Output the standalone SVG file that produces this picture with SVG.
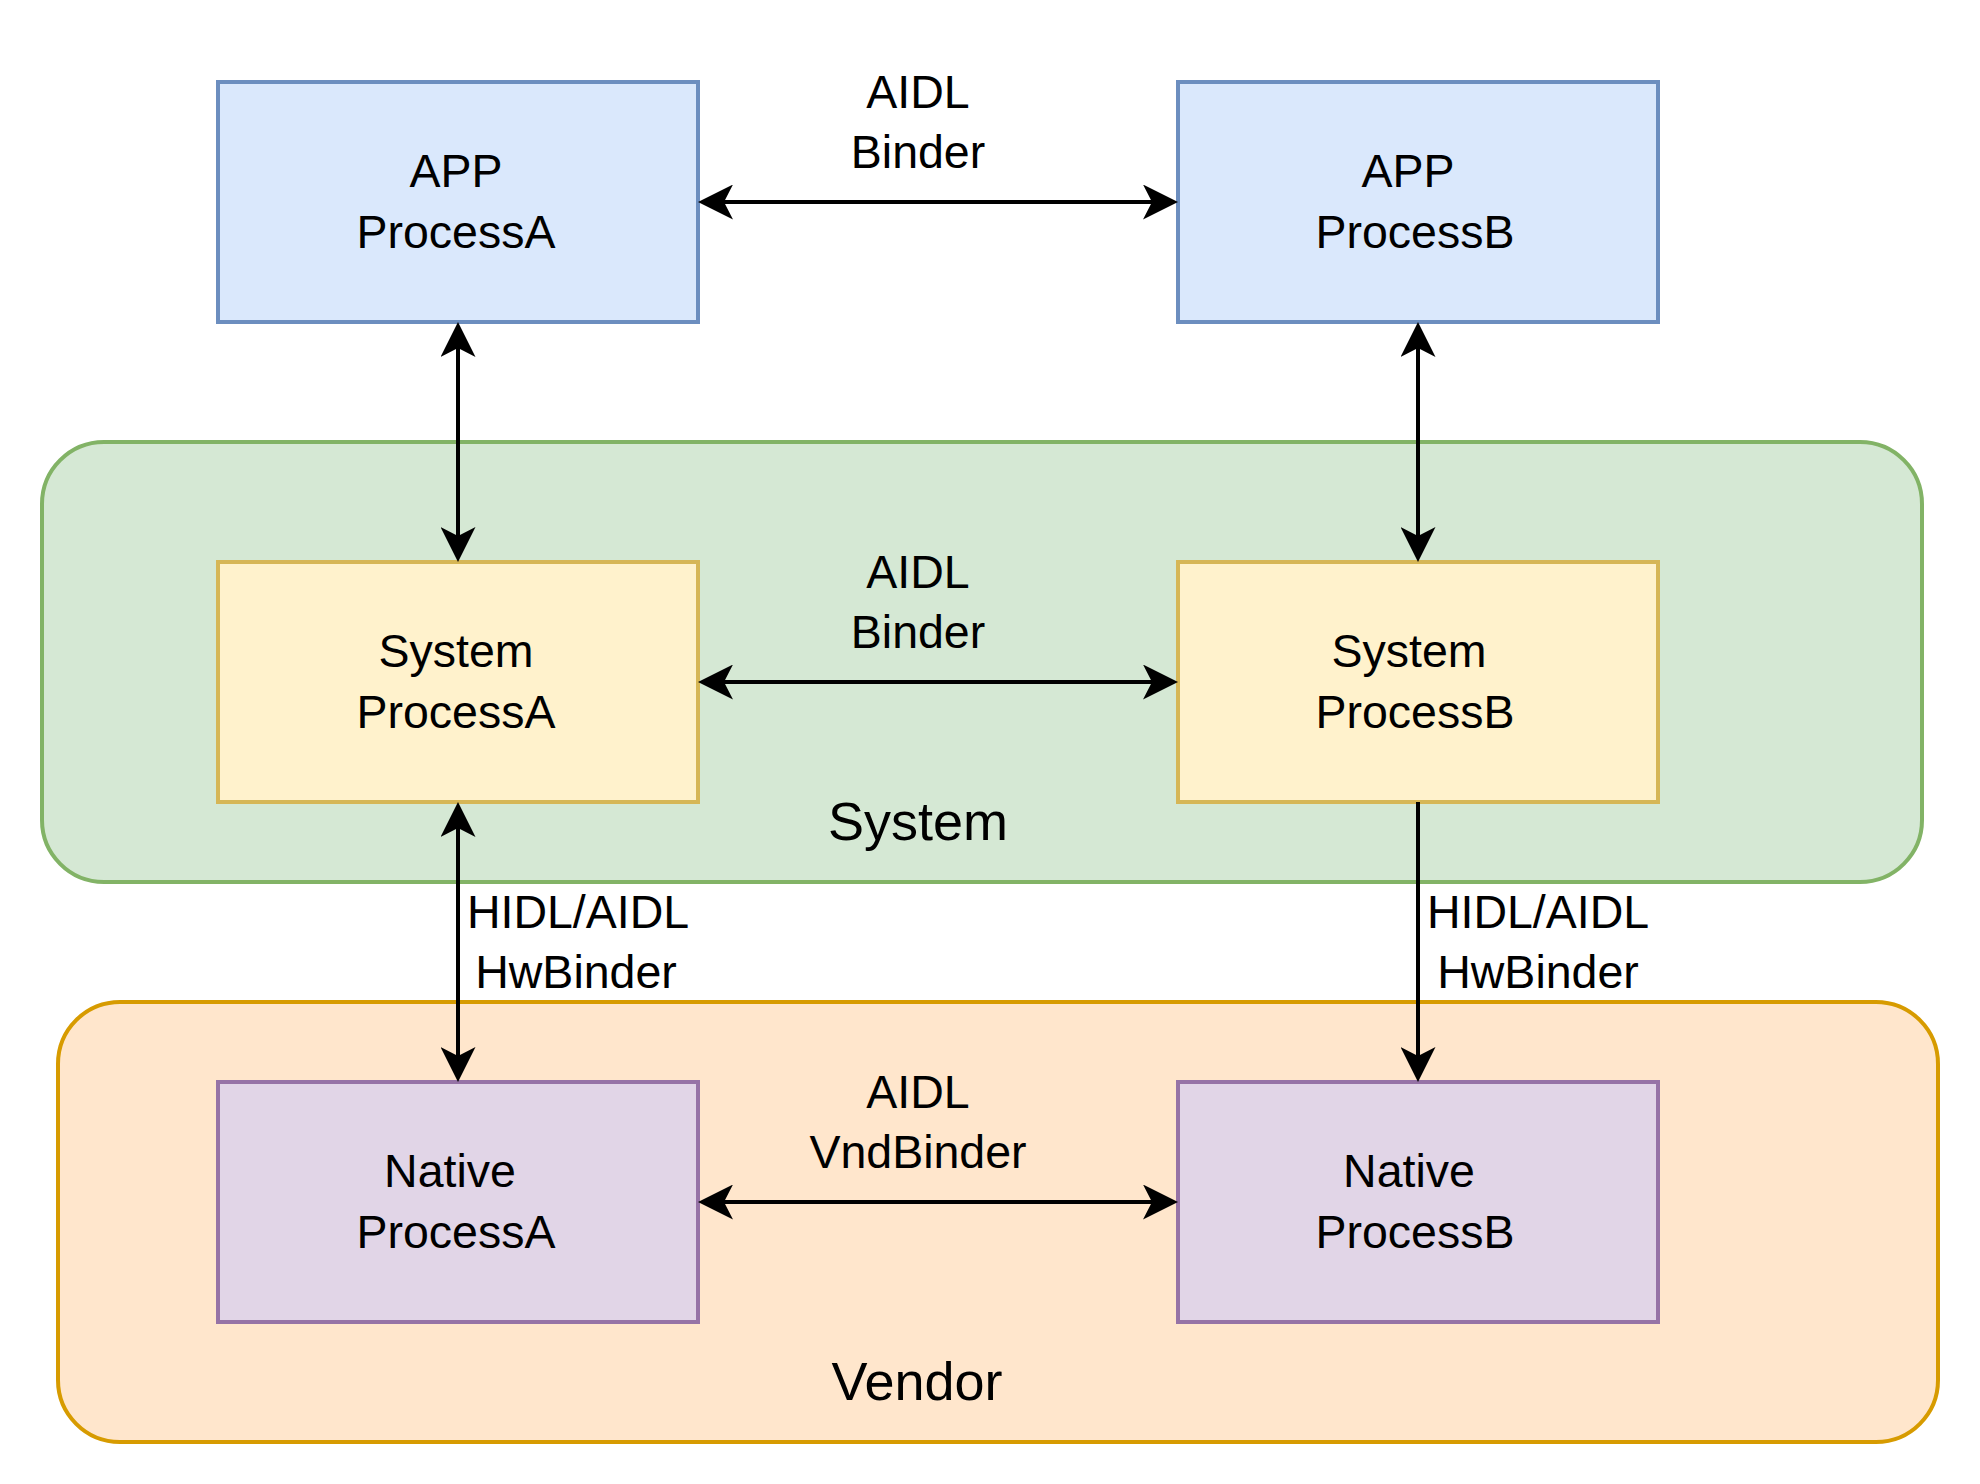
<svg xmlns="http://www.w3.org/2000/svg" width="1980" height="1484" viewBox="0 0 1980 1484">
  <style>
    text { font-family: "Liberation Sans", Arial, Helvetica, sans-serif; fill: #000000; }
    .t { font-size: 46.5px; text-anchor: middle; }
    .big { font-size: 54px; text-anchor: middle; }
    .box { stroke-width: 4; }
    .blue { fill: #dae8fc; stroke: #6c8ebf; }
    .yellow { fill: #fff2cc; stroke: #d6b656; }
    .purple { fill: #e1d5e7; stroke: #9673a6; }
    .cont { stroke-width: 4; }
    .conn { stroke: #000000; stroke-width: 4; fill: none; }
  </style>
  <defs>
    <marker id="arr" viewBox="0 0 35 35" markerWidth="35" markerHeight="35" refX="25" refY="17.5" orient="auto-start-reverse" markerUnits="userSpaceOnUse">
      <path d="M35,17.5 L0,0 L9,17.5 L0,35 Z" fill="#000000"/>
    </marker>
  </defs>
  <rect width="1980" height="1484" fill="#ffffff"/>

  <g id="system-layer">
    <rect class="cont" x="42" y="442" width="1880" height="440" rx="62" ry="62" fill="#d5e8d4" stroke="#82b366"/>
    <text class="big" x="918" y="840">System</text>
  </g>
  <g id="vendor-layer">
    <rect class="cont" x="58" y="1002" width="1880" height="440" rx="62" ry="62" fill="#ffe6cc" stroke="#d79b00"/>
    <text class="big" x="917" y="1400">Vendor</text>
  </g>

  <g id="app-process-a">
    <rect class="box blue" x="218" y="82" width="480" height="240"/>
    <text class="t" x="456" y="187">APP</text>
    <text class="t" x="456" y="248">ProcessA</text>
  </g>
  <g id="app-process-b">
    <rect class="box blue" x="1178" y="82" width="480" height="240"/>
    <text class="t" x="1408" y="187">APP</text>
    <text class="t" x="1415" y="248">ProcessB</text>
  </g>
  <g id="system-process-a">
    <rect class="box yellow" x="218" y="562" width="480" height="240"/>
    <text class="t" x="456" y="667">System</text>
    <text class="t" x="456" y="728">ProcessA</text>
  </g>
  <g id="system-process-b">
    <rect class="box yellow" x="1178" y="562" width="480" height="240"/>
    <text class="t" x="1409" y="667">System</text>
    <text class="t" x="1415" y="728">ProcessB</text>
  </g>
  <g id="native-process-a">
    <rect class="box purple" x="218" y="1082" width="480" height="240"/>
    <text class="t" x="450" y="1187">Native</text>
    <text class="t" x="456" y="1248">ProcessA</text>
  </g>
  <g id="native-process-b">
    <rect class="box purple" x="1178" y="1082" width="480" height="240"/>
    <text class="t" x="1409" y="1187">Native</text>
    <text class="t" x="1415" y="1248">ProcessB</text>
  </g>

  <g id="connectors">
    <line class="conn" x1="708" y1="202" x2="1168" y2="202" marker-start="url(#arr)" marker-end="url(#arr)"/>
    <line class="conn" x1="708" y1="682" x2="1168" y2="682" marker-start="url(#arr)" marker-end="url(#arr)"/>
    <line class="conn" x1="708" y1="1202" x2="1168" y2="1202" marker-start="url(#arr)" marker-end="url(#arr)"/>
    <line class="conn" x1="458" y1="332" x2="458" y2="552" marker-start="url(#arr)" marker-end="url(#arr)"/>
    <line class="conn" x1="1418" y1="332" x2="1418" y2="552" marker-start="url(#arr)" marker-end="url(#arr)"/>
    <line class="conn" x1="458" y1="812" x2="458" y2="1072" marker-start="url(#arr)" marker-end="url(#arr)"/>
    <line class="conn" x1="1418" y1="802" x2="1418" y2="1072" marker-end="url(#arr)"/>

    <text class="t" x="918" y="108">AIDL</text>
    <text class="t" x="918" y="168">Binder</text>
    <text class="t" x="918" y="588">AIDL</text>
    <text class="t" x="918" y="648">Binder</text>
    <text class="t" x="918" y="1108">AIDL</text>
    <text class="t" x="918" y="1168">VndBinder</text>
    <text class="t" x="578" y="928">HIDL/AIDL</text>
    <text class="t" x="576" y="988">HwBinder</text>
    <text class="t" x="1538" y="928">HIDL/AIDL</text>
    <text class="t" x="1538" y="988">HwBinder</text>
  </g>
</svg>
